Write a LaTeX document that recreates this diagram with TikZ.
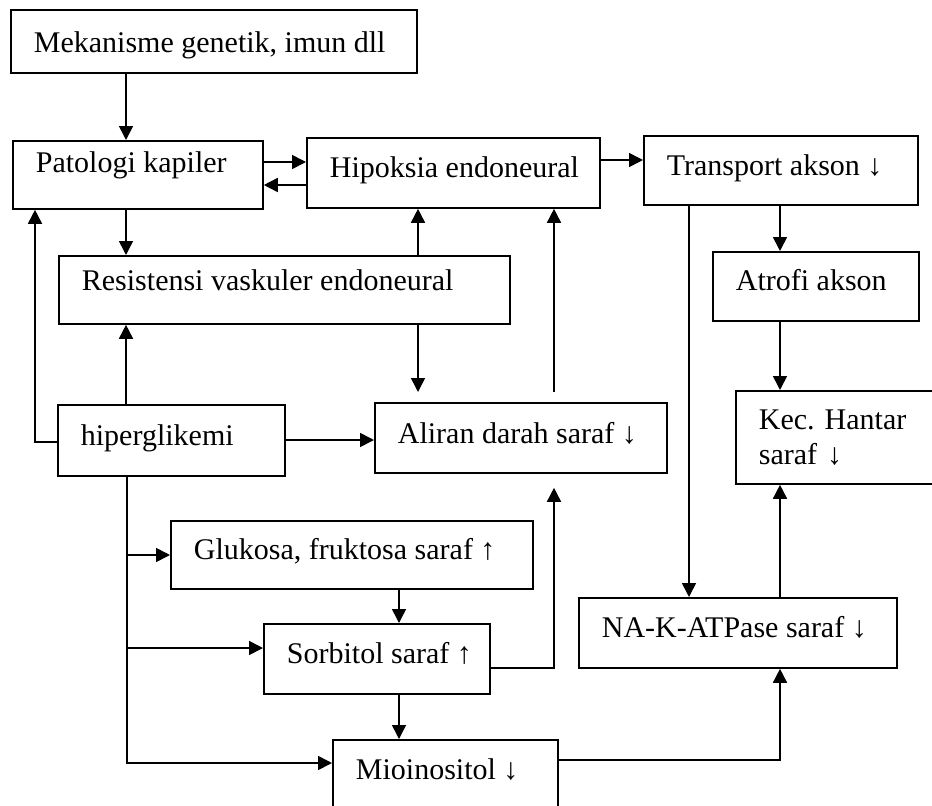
\documentclass[tikz,border=0pt]{standalone}
\usepackage{fontspec}
\setmainfont{Liberation Serif}
\usetikzlibrary{arrows.meta}
\newcommand{\boxtxt}[2]{\makebox[#1][l]{#2}}
\frenchspacing
\begin{document}
\begin{tikzpicture}[x=1pt,y=-1pt,
  bx/.style={draw, line width=1.8pt, anchor=north west, inner xsep=23pt, inner ysep=0pt,
    font=\fontsize{30}{35}\selectfont},
  tb/.style={text height=#1, text depth=10pt},
  arr/.style={line width=1.6pt, -{Triangle[length=14pt,width=14pt]}}]
\useasboundingbox (0,0) rectangle (932,806);
\fill[white] (0,0) rectangle (932,806);
\clip (0,0) rectangle (932,806);

% boxes
\node[bx, minimum width=406pt, minimum height=63pt, tb=33pt] (mek) at (10,9) {\boxtxt{360pt}{Mekanisme genetik, imun dll}};
\node[bx, minimum width=250pt, minimum height=68pt, tb=6pt] (pat) at (12,140) {\boxtxt{204pt}{Patologi kapiler}};
\node[bx, minimum width=293pt, minimum height=70pt, tb=20pt] (hip) at (306,137) {\boxtxt{247pt}{Hipoksia endoneural}};
\node[bx, minimum width=274pt, minimum height=69pt, tb=21pt] (tra) at (643,135) {\boxtxt{228pt}{Transport akson ↓}};
\node[bx, minimum width=451pt, minimum height=68pt, tb=12pt] (res) at (58,255) {\boxtxt{405pt}{Resistensi vaskuler endoneural}};
\node[bx, minimum width=206pt, minimum height=69pt, tb=19pt] (atr) at (712,251) {\boxtxt{160pt}{Atrofi akson}};
\node[bx, minimum width=227pt, minimum height=71pt, tb=21pt] (hyp) at (57,404) {\boxtxt{181pt}{hiperglikemi}};
\node[bx, minimum width=292pt, minimum height=70pt, tb=22pt] (ali) at (374,402) {\boxtxt{246pt}{Aliran darah saraf ↓}};
\node[bx, minimum width=220pt, minimum height=93pt, text width=174pt, align=left] (kec) at (735,390) {Kec. Hantar\\saraf ↓};
\node[bx, minimum width=362pt, minimum height=68pt, tb=20pt] (glu) at (170,520) {\boxtxt{316pt}{Glukosa, fruktosa saraf ↑}};
\node[bx, minimum width=226pt, minimum height=70pt, tb=20pt] (sor) at (263,623) {\boxtxt{180pt}{Sorbitol saraf ↑}};
\node[bx, minimum width=318pt, minimum height=70pt, tb=20pt] (nak) at (578,597) {\boxtxt{272pt}{NA-K-ATPase saraf ↓}};
\node[bx, minimum width=225pt, minimum height=76pt, tb=14pt] (mio) at (332,739) {\boxtxt{179pt}{Mioinositol ↓}};

% guide coordinates
\coordinate (cA) at (126,0);
\coordinate (cB) at (418,0);
\coordinate (cC) at (554,0);
\coordinate (cD) at (35,0);
\coordinate (cE) at (780,0);
\coordinate (cF) at (689,0);
\coordinate (cG) at (399,0);
\coordinate (cH) at (127,0);
\coordinate (rA) at (0,162);
\coordinate (rB) at (0,185);
\coordinate (rC) at (0,160);
\coordinate (rD) at (0,442);
\coordinate (rE) at (0,440);
\coordinate (rF) at (0,760);
\coordinate (rG) at (0,668);
\coordinate (rH) at (0,555);
\coordinate (rI) at (0,648);
\coordinate (rJ) at (0,763);

% connectors
\draw[arr] (mek.south -| cA) -- (pat.north -| cA);
\draw[arr] (pat.south -| cA) -- (res.north -| cA);
\draw[arr] (hyp.north -| cA) -- (res.south -| cA);
\draw[arr] (pat.east |- rA) -- (hip.west |- rA);
\draw[arr] (hip.west |- rB) -- (pat.east |- rB);
\draw[arr] (hip.east |- rC) -- (tra.west |- rC);
\draw[arr] (res.north -| cB) -- (hip.south -| cB);
\draw[arr, shorten >=10pt] (res.south -| cB) -- (ali.north -| cB);
\draw[arr, shorten <=10pt] (ali.north -| cC) -- (hip.south -| cC);
\draw[arr] (hyp.west |- rD) -| (pat.south -| cD);
\draw[arr] (hyp.east |- rE) -- (ali.west |- rE);
\draw[arr] (tra.south -| cE) -- (atr.north -| cE);
\draw[arr] (atr.south -| cE) -- (kec.north -| cE);
\draw[arr] (tra.south -| cF) -- (nak.north -| cF);
\draw[arr] (nak.north -| cE) -- (kec.south -| cE);
\draw[arr] (mio.east |- rF) -| (nak.south -| cE);
\draw[arr, shorten >=14pt] (sor.east |- rG) -| (ali.south -| cC);
\draw[arr] (glu.south -| cG) -- (sor.north -| cG);
\draw[arr] (sor.south -| cG) -- (mio.north -| cG);
\draw[arr] (hyp.south -| cH) |- (mio.west |- rJ);
\draw[arr] (cH |- rH) -- (glu.west |- rH);
\draw[arr] (cH |- rI) -- (sor.west |- rI);
\end{tikzpicture}
\end{document}
